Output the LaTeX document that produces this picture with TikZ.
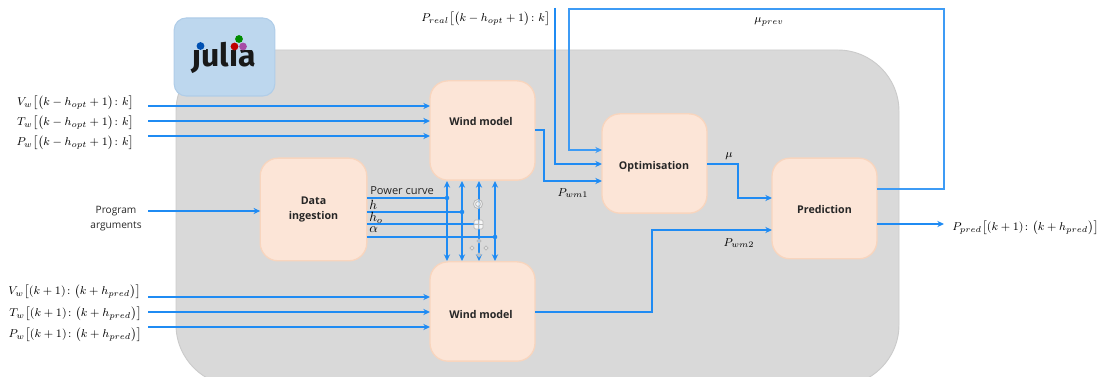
\documentclass[tikz,border=0pt]{standalone}
\usepackage{fontspec}
\setmainfont{Open Sans}
\newfontfamily\logofont{Fira Sans}
\usepackage{amsmath}
\usetikzlibrary{arrows.meta,calc}
\definecolor{wirec}{HTML}{1F8BF3}
\definecolor{loopc}{HTML}{3D9BF5}
\definecolor{panelc}{HTML}{D9D9D9}
\definecolor{paneld}{HTML}{CBCBCB}
\definecolor{boxf}{HTML}{FCE5D7}
\definecolor{boxd}{HTML}{F8D5BE}
\definecolor{julf}{HTML}{BDD7EE}
\definecolor{juld}{HTML}{B0CDE8}
\definecolor{txt}{HTML}{262626}
\tikzset{
  blockbox/.style={draw=boxd,fill=boxf,line width=1pt,rounded corners=13.5pt,minimum width=78.75pt,minimum height=74.5pt,inner sep=0pt,outer sep=0pt,align=center,font=\fontsize{8}{11}\selectfont\bfseries,text=txt},
  blocktext/.style={inner sep=0pt,anchor=base,font=\fontsize{8}{11}\selectfont\bfseries,text=txt},
  wire/.style={draw=wirec,line width=1.05pt},
  arrowwire/.style={wire,-{Stealth[length=5pt,width=4.6pt]}},
  twoway/.style={wire,{Stealth[length=5pt,width=4.6pt]}-{Stealth[length=5pt,width=4.6pt]}},
  jointdot/.style={circle,fill=wirec,inner sep=0pt,minimum size=3.4pt},
  mlabel/.style={inner sep=0pt,scale=1.065,font=\fontsize{8}{10}\selectfont,text=black},
  buslabel/.style={inner sep=0pt,anchor=base west,font=\fontsize{10}{12}\selectfont,text=black},
  plabel/.style={inner sep=0pt,font=\fontsize{7.6}{11.4}\selectfont,text=txt,align=center},
  handle/.style={draw=gray!55,line width=.6pt,fill=white,fill opacity=.55}
}
\begin{document}
\begin{tikzpicture}[x=0.75pt,y=-0.75pt]
\useasboundingbox (0,0) rectangle (1104,377);
\begin{scope}
\clip (0,0) rectangle (1104,377);
\fill[panelc,draw=paneld,line width=.7pt,rounded corners=46pt] (176,50) rectangle (899,386);
\end{scope}
% Julia logo
\node[draw=juld,fill=julf,line width=.8pt,rounded corners=9pt,minimum width=75.5pt,minimum height=58.5pt,inner sep=0pt] (jul) at (224.5,57) {};
\begin{scope}
\clip (185,49.5) rectangle (262,82) (206,35) rectangle (226,50);
\node[inner sep=0pt,anchor=base,font=\logofont\fontsize{24}{26}\selectfont\bfseries,text=black!90] (jultext) at (224,67) {julia};
\end{scope}
\fill[blue!55!cyan!70!black] (200.5,46) circle (3.9*0.75pt);
\fill[green!55!black] (239,39) circle (3.9*0.75pt);
\fill[red!75!black] (234.5,46.5) circle (3.9*0.75pt);
\fill[violet!70!white] (243,46.5) circle (3.9*0.75pt);
% blocks
\node[blockbox] (wt) at (482.5,130.5) {};
\node[blockbox] (wb) at (482.5,311.5) {};
\node[blockbox,minimum width=80pt,minimum height=77pt] (di) at (313.5,209.5) {Data\\ingestion};
\node[blockbox] (op) at (654.5,163.5) {};
\node[blockbox,minimum height=75.5pt] (pr) at (824.5,208.5) {};
\node[blocktext] (wtt) at (481,126) {Wind model};
\node[blocktext] (wbt) at (481,319) {Wind model};
\node[blocktext] (opt) at (654,170) {Optimisation};
\node[blocktext] (prt) at (824.5,214) {Prediction};
% input labels
\node[mlabel,anchor=east] (l1) at (134,103) {$V_w\bigl[\bigl(k-h_{opt}+1\bigr)\colon k\bigr]$};
\node[mlabel,anchor=east] (l2) at (134,123) {$T_w\bigl[\bigl(k-h_{opt}+1\bigr)\colon k\bigr]$};
\node[mlabel,anchor=east] (l3) at (134,143) {$P_w\bigl[\bigl(k-h_{opt}+1\bigr)\colon k\bigr]$};
\node[mlabel,anchor=east] (l4) at (141,292) {$V_w\bigl[(k+1)\colon\bigl(k+h_{pred}\bigr)\bigr]$};
\node[mlabel,anchor=east] (l5) at (142,314) {$T_w\bigl[(k+1)\colon\bigl(k+h_{pred}\bigr)\bigr]$};
\node[mlabel,anchor=east] (l6) at (142,335) {$P_w\bigl[(k+1)\colon\bigl(k+h_{pred}\bigr)\bigr]$};
\node[plabel] (args) at (116,218.5) {Program\\arguments};
\node[mlabel,anchor=west] (lreal) at (421,19) {$P_{real}\bigl[\bigl(k-h_{opt}+1\bigr)\colon k\bigr]$};
\node[mlabel] (lprev) at (769,22) {$\mu_{prev}$};
\node[mlabel] (lw1) at (573,193) {$P_{wm1}$};
\node[mlabel] (lw2) at (739,243) {$P_{wm2}$};
\node[mlabel] (lmu) at (729,156) {$\mu$};
\node[mlabel,anchor=west] (lpred) at (952,228) {$P_{pred}\bigl[(k+1)\colon\bigl(k+h_{pred}\bigr)\bigr]$};
% free ends
\coordinate (i1) at (148,106);
\coordinate (i2) at (148,121);
\coordinate (i3) at (148,136);
\coordinate (i4) at (148,297);
\coordinate (i5) at (148,312);
\coordinate (i6) at (148,327);
\coordinate (i7) at (148,211);
\coordinate (topreal) at (555,8);
\coordinate (loopx) at (944,9);
\coordinate (loopin) at (569,9);
\coordinate (outw) at (535,130);
\coordinate (outb) at (535,312);
\coordinate (outo) at (707,164);
\coordinate (outp1) at (877,189);
\coordinate (endp) at (944,224);
\draw[arrowwire] (i1) -- (i1 -| wt.west);
\draw[arrowwire] (i2) -- (i2 -| wt.west);
\draw[arrowwire] (i3) -- (i3 -| wt.west);
\draw[arrowwire] (i4) -- (i4 -| wb.west);
\draw[arrowwire] (i5) -- (i5 -| wb.west);
\draw[arrowwire] (i6) -- (i6 -| wb.west);
\draw[arrowwire] (i7) -- (i7 -| di.west);
% two-way bus
\coordinate (b1) at (447,198);
\coordinate (b2) at (462,212);
\coordinate (b3) at (479,224);
\coordinate (b4) at (495,237);
\draw[twoway] (b1 |- 0,181) -- (b1 |- 0,261);
\draw[twoway] (b2 |- 0,181) -- (b2 |- 0,261);
\draw[twoway] (b3 |- 0,181) -- (b3 |- 0,261);
\draw[twoway] (b4 |- 0,181) -- (b4 |- 0,261);
\draw[wire,line width=.9pt] (b1 -| di.east) -- (b1);
\draw[wire,line width=.9pt] (b2 -| di.east) -- (b2);
\draw[wire,line width=.9pt] (b3 -| di.east) -- (b3);
\draw[wire,line width=.9pt] (b4 -| di.east) -- (b4);
\node[jointdot] (d1) at (b1) {};
\node[jointdot] (d2) at (b2) {};
\node[jointdot] (d4) at (b4) {};
\node[inner sep=0pt,anchor=west,font=\fontsize{8.3}{10}\selectfont,text=txt] (lpc) at (370,191) {Power curve};
\node[buslabel] (lh) at (369,210) {$h$};
\node[buslabel] (lho) at (369,222) {$h_o$};
\node[buslabel] (la) at (369,233) {$\alpha$};
% selection handles
\draw[handle] (478,204) circle (4.6*0.75pt);
\draw[handle] (478,204) circle (2.4*0.75pt);
\draw[handle,rounded corners=1pt,fill opacity=.8] (474,220) rectangle (483,229);
\draw[draw=gray!55,line width=.5pt] (478.5,220) -- (478.5,229) (474,224.5) -- (483,224.5);
\foreach \dx/\dy in {-7/0,7/0,0/-7,0/7}{\draw[handle] ($(479,248)+(\dx,\dy)$) +(-2,0) -- +(0,-2) -- +(2,0) -- +(0,2) -- cycle;}
% other connectors
\draw[arrowwire] (outw) -- (544,130) -- (544,181) -- (op.west |- 0,181);
\draw[arrowwire] (topreal) -- (555,164) -- (op.west |- 0,164);
\draw[arrowwire,draw=loopc,line width=.9pt] (outp1) -- (outp1 -| loopx) -- (loopx) -- (loopin) -- (569,150) -- (op.west |- 0,150);
\draw[arrowwire] (outo) -- (738,164) -- (738,198) -- (pr.west |- 0,198);
\draw[arrowwire] (outb) -- (652,312) -- (652,230) -- (pr.west |- 0,230);
\draw[arrowwire] (pr.east |- endp) -- (endp);
\end{tikzpicture}
\end{document}
